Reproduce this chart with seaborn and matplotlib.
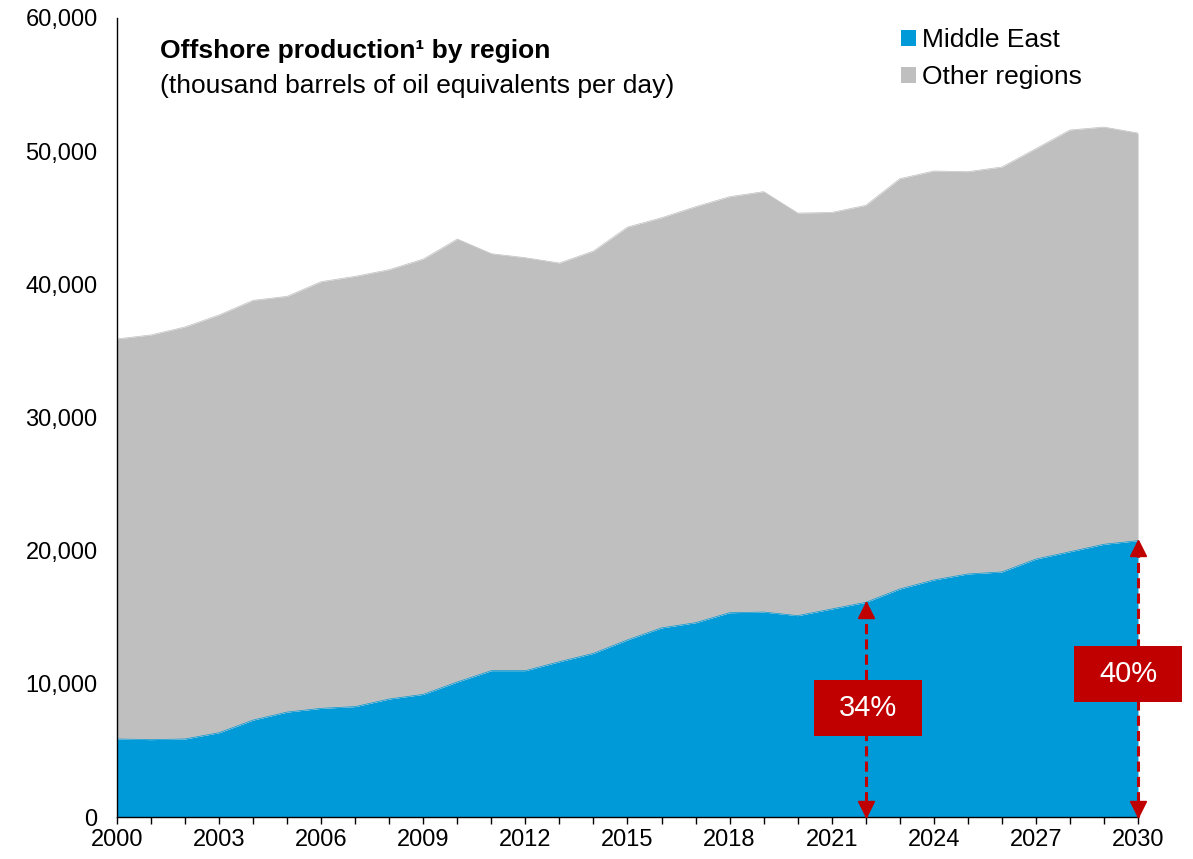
import numpy as np
import pandas as pd
import seaborn as sns
import matplotlib
matplotlib.use("Agg")
import matplotlib.pyplot as plt
from matplotlib.patches import Patch, Rectangle
from matplotlib.ticker import FuncFormatter
import matplotlib.transforms as mtransforms

# ---------------- data (thousand boe/d) ----------------
years = list(range(2000, 2031))
middle_east = [5.86, 5.81, 5.86, 6.33, 7.28, 7.88, 8.16, 8.29, 8.86, 9.21,
               10.14, 10.99, 10.99, 11.66, 12.29, 13.30, 14.20, 14.59, 15.34, 15.39,
               15.12, 15.62, 16.12, 17.12, 17.80, 18.25, 18.40, 19.37, 19.92, 20.48,
               20.75]
total = [35.9, 36.2, 36.8, 37.7, 38.8, 39.1, 40.2, 40.6, 41.1, 41.9,
         43.4, 42.3, 42.0, 41.6, 42.5, 44.3, 45.0, 45.83, 46.58, 46.96,
         45.35, 45.4, 45.93, 47.93, 48.51, 48.46, 48.81, 50.19, 51.59, 51.81,
         51.36]
middle_east = [v * 1000 for v in middle_east]
total = [v * 1000 for v in total]
other = [t - m for t, m in zip(total, middle_east)]
series_labels = ["Middle East", "Other regions"]
share_years = [2022, 2030]
share_labels = ["34%", "40%"]
y_ticks = [0, 10000, 20000, 30000, 40000, 50000, 60000]
x_label_years = list(range(2000, 2031, 3))

df = pd.DataFrame({"year": years, "Middle East": middle_east, "Other regions": other, "total": total})

BLUE = "#009AD8"
GREY = "#BFBFBF"
RED = "#C00000"

sns.set_theme(style="white")
plt.rcParams["font.family"] = ["Liberation Sans", "DejaVu Sans"]
plt.rcParams["text.color"] = "black"
plt.rcParams["xtick.color"] = "black"
plt.rcParams["ytick.color"] = "black"

W, H = 1193, 859
fig = plt.figure(figsize=(W / 100, H / 100), dpi=100)
ax = fig.add_axes([117 / W, 1 - 817 / H, (1138 - 117) / W, (817 - 18) / H])

def fx(x):
    return x / W

def fy(y):
    return 1 - y / H

# stacked areas
ax.stackplot(df["year"], df["Middle East"], df["Other regions"],
             colors=[BLUE, GREY], linewidth=0, zorder=1)
sns.lineplot(x="year", y="total", data=df, ax=ax, color=GREY, linewidth=0.5, zorder=1)
sns.lineplot(x="year", y="Middle East", data=df, ax=ax, color=BLUE, linewidth=0.5, zorder=1)

ax.set_xlim(2000, 2030)
ax.set_ylim(0, 60000)
ax.set_xlabel("")
ax.set_ylabel("")

# spines
for s in ["top", "right"]:
    ax.spines[s].set_visible(False)
for s in ["left", "bottom"]:
    ax.spines[s].set_color("black")
    ax.spines[s].set_linewidth(1.0)
    ax.spines[s].set_zorder(5)

ax.set_yticks(y_ticks)
ax.yaxis.set_major_formatter(FuncFormatter(lambda v, p: f"{int(v):,}"))
ax.tick_params(axis="y", length=0, pad=14, labelsize=17, labelcolor="black")
ax.set_xticks(years)
ax.set_xticklabels([str(y) if y in x_label_years else "" for y in years])
ax.tick_params(axis="x", length=5, width=1, direction="out", pad=4, labelsize=17,
               color="black", labelcolor="black", bottom=True)

# title
fig.text(fx(160), fy(58), "Offshore production¹ by region", fontsize=19,
         fontweight="bold", ha="left", va="baseline", color="black")
fig.text(fx(160), fy(93), "(thousand barrels of oil equivalents per day)", fontsize=19,
         ha="left", va="baseline", color="black")

# legend
handles = [Patch(facecolor=BLUE, edgecolor="none"), Patch(facecolor=GREY, edgecolor="none")]
leg = fig.legend(handles, series_labels, loc="upper left",
                 bbox_to_anchor=(fx(901), fy(28)), frameon=False, fontsize=19,
                 handlelength=0.55, handleheight=0.55, handletextpad=0.25,
                 labelspacing=0.5, borderpad=0, borderaxespad=0)
for t in leg.get_texts():
    t.set_color("black")

# share arrows
me_by_year = dict(zip(years, middle_east))
ms = 11
for yr, lab in zip(share_years, share_labels):
    top = me_by_year[yr]
    ax.plot([yr, yr], [0, top], color=RED, linewidth=2.2, dashes=(3.3, 1.7),
            zorder=6, clip_on=False)
    up = mtransforms.offset_copy(ax.transData, fig=fig, x=0, y=-ms / 2, units="points")
    dn = mtransforms.offset_copy(ax.transData, fig=fig, x=0, y=ms / 2, units="points")
    ax.plot([yr], [top], marker="^", markersize=ms, color=RED, linestyle="none",
            transform=up, zorder=7, clip_on=False)
    ax.plot([yr], [0], marker="v", markersize=ms, color=RED, linestyle="none",
            transform=dn, zorder=7, clip_on=False)

# boxes
boxes = [((814, 680, 922, 736), (868, 708)), ((1074, 646, 1182, 702), (1128, 674))]
for (x0, y0, x1, y1), (tx, ty), lab in [(b[0], b[1], l) for b, l in zip(boxes, share_labels)]:
    r = Rectangle((fx(x0), fy(y1)), (x1 - x0) / W, (y1 - y0) / H,
                  transform=fig.transFigure, facecolor=RED, edgecolor="none", zorder=8)
    fig.patches.append(r)
    fig.text(fx(tx), fy(ty), lab, color="white", fontsize=21, ha="center", va="center",
             zorder=9)

fig.savefig("out.png", dpi=100)
